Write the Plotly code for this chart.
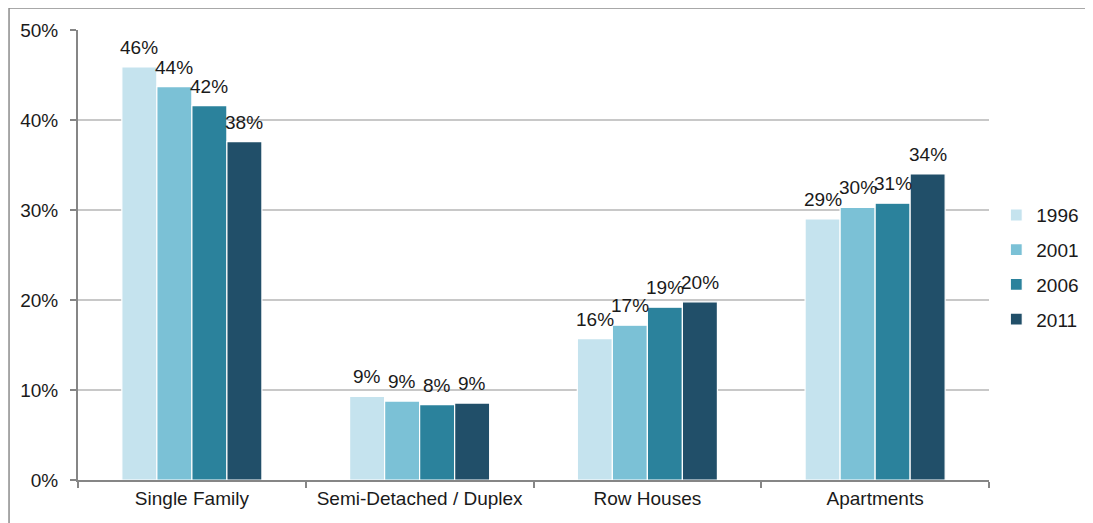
import plotly.graph_objects as go

categories = ["Single Family", "Semi-Detached / Duplex", "Row Houses", "Apartments"]
years = ["1996", "2001", "2006", "2011"]
v1996 = [0.459, 0.0929, 0.157, 0.290]
v2001 = [0.437, 0.0877, 0.172, 0.303]
v2006 = [0.416, 0.0837, 0.192, 0.3075]
v2011 = [0.376, 0.0855, 0.198, 0.340]
colors = ["#C5E3EE", "#7BC1D6", "#2B829C", "#214F69"]

series = [v1996, v2001, v2006, v2011]

FONT = "Liberation Sans, Arial"
BARGAP = 0.385
n = len(series)
bar_w = (1 - BARGAP) / n

fig = go.Figure()
for name, vals, col in zip(years, series, colors):
    fig.add_trace(go.Bar(
        x=categories, y=vals, name=name,
        marker=dict(color=col, line=dict(color="white", width=1.2)),
        legendgroup=name,
    ))

# value labels above each bar (positioned at the grouped-bar centers)
for j, vals in enumerate(series):
    for i, v in enumerate(vals):
        fig.add_annotation(
            x=i + (j - (n - 1) / 2) * bar_w, y=v, xref="x", yref="y",
            text=f"{v:.0%}", showarrow=False, yanchor="bottom",
            yshift=7, font=dict(size=19, color="#1a1a1a", family=FONT),
        )

# page has an 8px body margin; margins compensate so the plot area
# lands at x 78..989, y 28..480 in the screenshot
fig.update_layout(
    width=1093, height=523,
    margin=dict(l=70, r=112, t=20, b=51),
    paper_bgcolor="white", plot_bgcolor="white",
    barmode="group", bargap=BARGAP, bargroupgap=0.0,
    font=dict(family=FONT, size=19, color="#1a1a1a"),
    legend=dict(x=1.008, xanchor="left", y=0.473, yanchor="middle",
                traceorder="grouped", tracegroupgap=7, itemwidth=30,
                font=dict(size=19), bgcolor="rgba(0,0,0,0)"),
    showlegend=True,
)
fig.update_yaxes(range=[0, 0.5], dtick=0.1, tickformat=".0%",
                 showgrid=True, gridcolor="#C8C8C8", gridwidth=1.5,
                 showline=True, linecolor="#868686", linewidth=2,
                 ticks="outside", ticklen=6, tickcolor="#868686", tickwidth=1.5,
                 ticklabelstandoff=8, zeroline=False)
fig.update_xaxes(showline=True, linecolor="#868686", linewidth=2,
                 ticks="outside", tickson="boundaries", ticklen=6,
                 tickcolor="#868686", tickwidth=1.5, showgrid=False)

# outer chart frame (top and left visible)
fig.add_shape(type="rect", xref="paper", yref="paper",
              x0=-0.0757, x1=1.3, y0=-0.3, y1=1.0487,
              line=dict(color="#8C8C8C", width=1.5), layer="below")

fig.write_html("out.html")
